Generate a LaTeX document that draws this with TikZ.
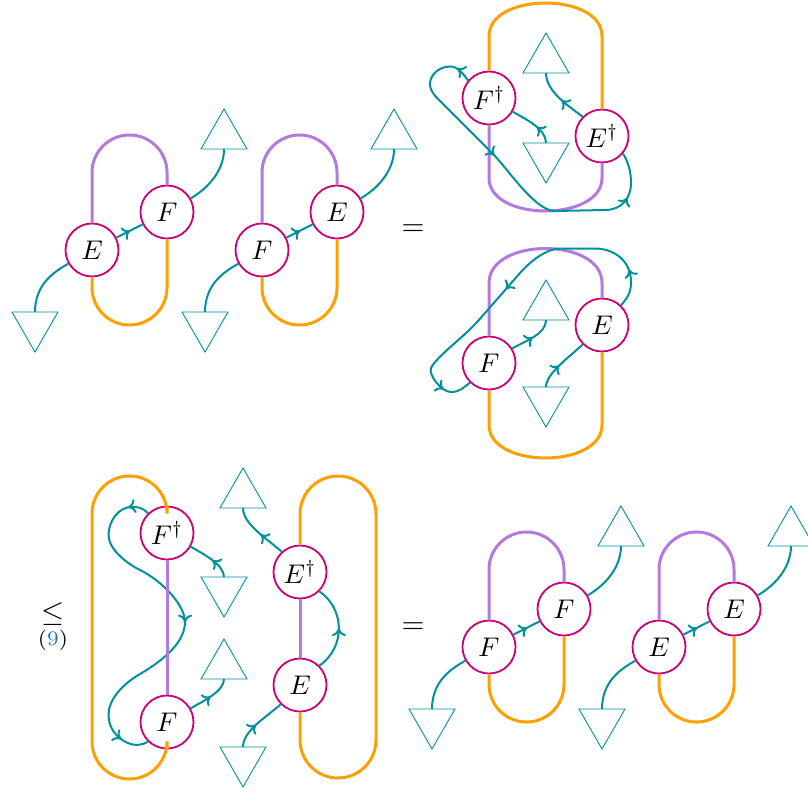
\documentclass[tikz,border=0pt]{standalone}
\usepackage{graphicx}
\usetikzlibrary{arrows.meta,decorations.markings}
\definecolor{cOr}{RGB}{255,160,0}
\definecolor{cPu}{RGB}{178,122,220}
\definecolor{cTe}{RGB}{0,145,155}
\definecolor{cMa}{RGB}{205,0,120}
\definecolor{cBl}{RGB}{35,115,200}
\newcommand{\sk}[1]{\scalebox{2.7}{#1}}
\newcommand{\skb}[1]{\scalebox{2.95}{#1}}
\tikzset{
  tipA/.tip={Computer Modern Rightarrow[length=7.5pt,width=14pt]},
  leg/.style={cTe, line width=2pt},
  tri/.style={cTe, line width=0.9pt, line join=miter},
  loopO/.style={cOr, line width=3pt},
  loopP/.style={cPu, line width=3pt},
  dot/.style={circle, draw=cMa, line width=1.8pt, fill=white, minimum size=53pt, inner sep=0pt},
  txt/.style={inner sep=0pt},
  arr/.style={postaction={decorate, decoration={markings, mark=at position #1 with {\arrow{tipA}}}}},
}
\newcommand{\downtri}[1]{\draw[tri] (#1) ++(-23,0) -- ++(46,0) -- ++(-23,40) -- cycle;}
\newcommand{\uptri}[1]{\draw[tri] (#1) ++(-23,0) -- ++(46,0) -- ++(-23,-40) -- cycle;}
\newcommand{\grp}[5]{%
\begin{scope}[shift={(#1,#2)}]
  \node[dot] (#3L) at (92,250) {\sk{$#4$}};
  \node[dot] (#3U) at (167,212) {\sk{$#5$}};
  \coordinate (#3D) at (35,312);
  \coordinate (#3T) at (224,149);
  \draw[loopP, rounded corners=37.5pt] (#3L.north) -- (92,135) -- (167,135) -- (#3U.north);
  \draw[loopO, rounded corners=37.5pt] (#3L.south) -- (92,325) -- (167,325) -- (#3U.south);
  \downtri{#3D}
  \uptri{#3T}
  \draw[leg] (#3D) .. controls +(0,-28) and +(-14,8) .. (#3L.210);
  \draw[leg, arr=0.52] (#3L) -- (#3U);
  \draw[leg] (#3U.30) .. controls +(14,-8) and +(0,24) .. (#3T);
\end{scope}}
\begin{document}
\begin{tikzpicture}[x=1pt, y=-1pt]
\useasboundingbox (0,0) rectangle (808,792);
% top-left pair
\grp{0}{0}{a}{E}{F}
\grp{170}{0}{b}{F}{E}
\node[txt] (eq1) at (413,230) {\skb{$=$}};
% top-right
\node[dot] (tFd) at (489,98) {\sk{$F^\dagger$}};
\node[dot] (tEd) at (602,136) {\sk{$E^\dagger$}};
\coordinate (tT) at (546,73);
\coordinate (tD) at (546,143);
\draw[loopO] (tFd.north) -- (489,36) .. controls (489,-8) and (602,-8) .. (602,36) -- (tEd.north);
\draw[loopP] (tFd.south) -- (489,178) .. controls (489,222) and (602,222) .. (602,178) -- (tEd.south);
\uptri{tT}
\downtri{tD}
\draw[leg, arr=0.45] (tEd.135) .. controls +(-16,-12) and +(0,18) .. (tT);
\draw[leg, arr=0.4] (tD) .. controls +(0,-14) and +(14,8) .. (tFd.-30);
\draw[leg, arr=0.045, arr=0.42, arr=0.87] (tFd.140)
  .. controls +(-6,-8) and +(8,0) .. (450,66.5)
  .. controls +(-10,0) and +(0,-10) .. (430,84)
  .. controls +(0,8) and +(-6,-6) .. (443,104)
  -- (493,154)
  .. controls +(15,15) and +(-20,0) .. (555,211)
  -- (605,210)
  .. controls +(16,0) and +(0,16) .. (631,183)
  .. controls +(0,-12) and +(5,8) .. (tEd.-40);
% middle-right
\node[dot] (mF) at (489,363) {\sk{$F$}};
\node[dot] (mE) at (602,325) {\sk{$E$}};
\coordinate (mT) at (546,320);
\coordinate (mD) at (546,387);
\draw[loopP] (mF.north) -- (489,283) .. controls (489,237) and (602,237) .. (602,283) -- (mE.north);
\draw[loopO] (mF.south) -- (489,425) .. controls (489,469) and (602,469) .. (602,425) -- (mE.south);
\uptri{mT}
\downtri{mD}
\draw[leg, arr=0.5] (mF.32) .. controls +(14,-8) and +(0,14) .. (mT);
\draw[leg, arr=0.45] (mD) .. controls +(0,-14) and +(-12,12) .. (mE.225);
\draw[leg, arr=0.11, arr=0.53, arr=0.915] (mE.46)
  .. controls +(7,-8) and +(0,10) .. (631,282)
  .. controls +(0,-22) and +(18,0) .. (595,248.5)
  -- (560,248.5)
  .. controls +(-14,0) and +(9,-10.4) .. (520,273)
  -- (478,321)
  .. controls +(-14,16) and +(6,-12) .. (431,368)
  .. controls +(-3,6) and +(-10,0) .. (451,392)
  .. controls +(8,0) and +(-8,6) .. (mF.226);
% bottom-left
\node[txt] (le) at (53,614) {\skb{$\leq$}};
\node[txt] (rf) at (53,640) {\skb{$\scriptstyle(\textcolor{cBl}{9})$}};
\node[dot] (bFd) at (167,533) {\sk{$F^\dagger$}};
\node[dot] (bF) at (167,722) {\sk{$F$}};
\node[dot] (bEd) at (300,572) {\sk{$E^\dagger$}};
\node[dot] (bE) at (300,685) {\sk{$E$}};
\coordinate (bT1) at (243,508);
\coordinate (bD1) at (224,577);
\coordinate (bT2) at (224,679);
\coordinate (bD2) at (243,747);
\draw[loopO, rounded corners=37.5pt] (bFd.north) -- (167,476) -- (92,476) -- (92,779) -- (167,779) -- (bF.south);
\draw[loopO, rounded corners=38pt] (bEd.north) -- (300,476) -- (376,476) -- (376,778) -- (300,778) -- (bE.south);
\uptri{bT1}
\downtri{bD1}
\uptri{bT2}
\downtri{bD2}
\draw[leg, arr=0.45] (bD1) .. controls +(0,-12) and +(14,8) .. (bFd.-30);
\draw[leg, arr=0.5] (bF.30) .. controls +(14,-8) and +(0,12) .. (bT2);
\draw[leg, arr=0.45] (bEd.132) .. controls +(-16,-14) and +(0,16) .. (bT1);
\draw[leg, arr=0.45] (bD2) .. controls +(0,-16) and +(-16,14) .. (bE.225);
\draw[leg, arr=0.5] (bE.45) .. controls +(26,-18) and +(26,18) .. (bEd.-45);
\draw[leg, arr=0.06, arr=0.495, arr=0.92] (bFd.134)
  .. controls +(-6,-6) and +(8,0) .. (131,507)
  .. controls +(-12,0) and +(0,-14) .. (108.5,535)
  .. controls +(0,14) and +(-14,-7) .. (140,570)
  .. controls +(24,12) and +(0,-16) .. (185,622)
  .. controls +(0,20) and +(24,-14) .. (140,674)
  .. controls +(-20,11.7) and +(0,-14) .. (108.5,715)
  .. controls +(0,14) and +(-10,-4) .. (128,743)
  .. controls +(8,3) and +(-8,4) .. (bF.226);
\draw[loopP] (bFd) -- (bF);
\draw[loopP] (bEd) -- (bE);
% bottom-right pair
\node[txt] (eq2) at (413,628) {\skb{$=$}};
\grp{397}{397}{c}{F}{F}
\grp{567}{397}{d}{E}{E}
\end{tikzpicture}
\end{document}
